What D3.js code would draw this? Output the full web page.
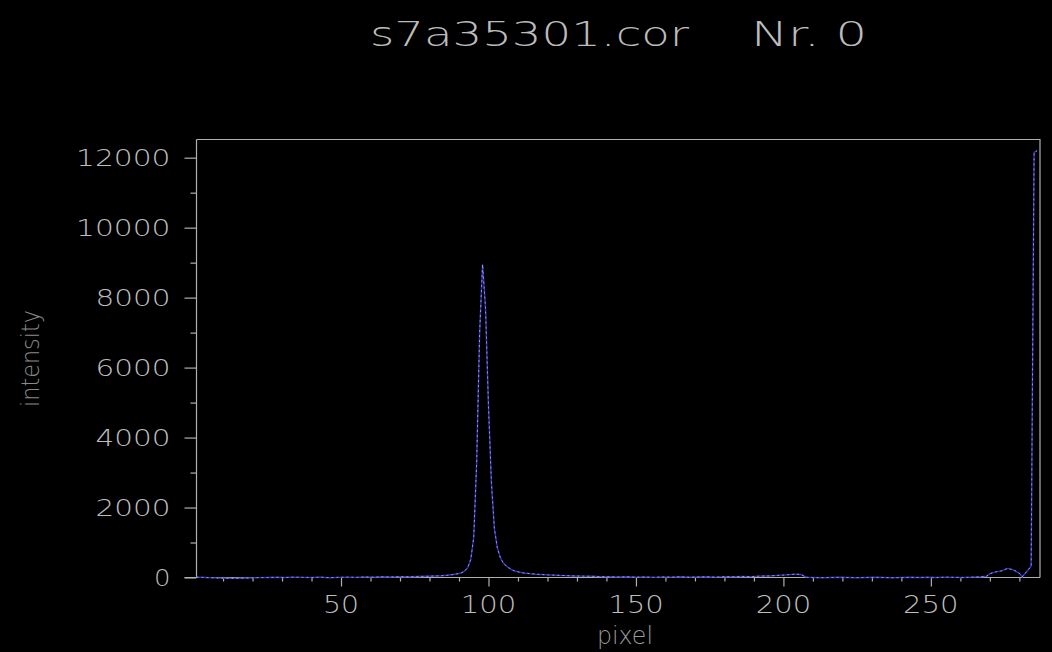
<!DOCTYPE html>
<html lang="en">
<head>
    <meta charset="UTF-8">
    <title>s7a35301.cor Nr. 0</title>
    <script src="https://d3js.org/d3.v7.min.js"></script>
    <style>
        body {
            margin: 0;
            overflow: hidden;
            background: #000;
        }
        svg text {
            font-family: 'DejaVu Sans', sans-serif;
            font-weight: 200;
        }
    </style>
</head>
<body>
    <div id="chart"></div>

    <script>
        // data
        const pixels = [1, 4, 7, 10, 13, 16, 19, 22, 25, 28, 31, 34, 37, 40, 43, 46, 49, 52, 55, 58,
            61, 64, 67, 70, 73, 76, 79, 82, 84, 86, 88, 89, 90, 91, 92, 93, 94, 95, 96, 97,
            98, 99, 100, 101, 102, 103, 104, 105, 106, 107, 108, 109, 110, 112, 114, 116, 118, 120, 123, 126,
            129, 132, 135, 138, 141, 144, 147, 150, 153, 156, 159, 162, 165, 168, 171, 174, 177, 180, 183, 186,
            189, 192, 195, 198, 201, 204, 206, 207, 208, 210, 213, 216, 219, 222, 225, 228, 231, 234, 237, 240,
            243, 246, 249, 252, 255, 258, 261, 264, 267, 269, 270, 272, 274, 276, 278, 280, 281, 282, 283, 284,
            285, 286];
        const intensity = [10, 0, -10, -20, -25, -20, -15, -5, 0, 5, 0, 10, 5, 0, 10, -5, 5, 10, 5, 15,
            10, 20, 15, 25, 20, 30, 35, 45, 50, 65, 85, 100, 115, 140, 190, 290, 520, 1150, 3300, 7000,
            8950, 7700, 4900, 2700, 1400, 850, 570, 420, 330, 270, 220, 185, 160, 130, 110, 95, 85, 75, 65, 55,
            45, 40, 35, 25, 20, 15, 20, 10, 15, 5, 15, 10, 20, 10, 15, 20, 10, 25, 20, 30,
            25, 40, 45, 60, 75, 95, 85, 40, 5, 0, -5, 0, 5, 0, -5, 0, 5, 0, -5, 0,
            5, 0, 5, 0, 10, 5, 0, 10, 20, 40, 110, 160, 190, 260, 220, 120, 20, 120, 220, 320,
            12150, 12200];

        const xMajor = [50, 100, 150, 200, 250];
        const yMajor = [0, 2000, 4000, 6000, 8000, 10000, 12000];

        const title = "s7a35301.cor";
        const subTitle = "Nr. 0";
        const xLabel = "pixel";
        const yLabel = "intensity";

        const width = 1052, height = 652;
        const plot = { left: 196.5, right: 1040, top: 139.5, bottom: 577.5 };
        const charW = 19.5;
        const labelLen = d => charW * String(d).length - 3;

        const svg = d3.select("#chart").append("svg")
            .attr("width", width)
            .attr("height", height)
            .style("background", "#000");

        const x = d3.scaleLinear().domain([1, 287]).range([plot.left, plot.right]);
        const y = d3.scaleLinear().domain([0, 12520]).range([plot.bottom, plot.top]);

        const frameColor = "#b0b0b0";
        const textColor = "#bdbdbd";

        // frame top and right
        svg.append("path")
            .attr("d", `M${plot.left},${plot.top}H${plot.right}V${plot.bottom}`)
            .attr("fill", "none")
            .attr("stroke", frameColor)
            .attr("stroke-width", 1.2);

        // x axis
        const xAxis = svg.append("g")
            .attr("transform", `translate(0,${plot.bottom})`)
            .call(d3.axisBottom(x).tickValues(d3.range(10, 287, 10)).tickSize(4).tickFormat(""));
        xAxis.select(".domain").attr("d", `M${plot.left - 12},0H${plot.right}`);
        xAxis.selectAll(".tick line")
            .attr("y2", d => xMajor.includes(d) ? 9 : 4);
        xAxis.selectAll("line, path").attr("stroke", frameColor).attr("stroke-width", 1.2);

        xAxis.selectAll(".lbl")
            .data(xMajor)
            .join("text")
            .attr("class", "lbl")
            .attr("text-anchor", "start")
            .attr("x", d => x(d) - labelLen(d) / 2)
            .attr("y", 35)
            .attr("textLength", labelLen)
            .attr("lengthAdjust", "spacingAndGlyphs")
            .attr("fill", textColor)
            .attr("font-size", 25)
            .text(d => d);

        // y axis
        const yAxis = svg.append("g")
            .attr("transform", `translate(${plot.left},0)`)
            .call(d3.axisLeft(y).tickValues(d3.range(0, 12001, 1000)).tickSize(6).tickFormat(""));
        yAxis.select(".domain").attr("d", `M0,${plot.top}V${plot.bottom}`);
        yAxis.selectAll(".tick line")
            .attr("x2", d => yMajor.includes(d) ? -12 : -6);
        yAxis.selectAll("line, path").attr("stroke", frameColor).attr("stroke-width", 1.2);

        yAxis.selectAll(".lbl")
            .data(yMajor)
            .join("text")
            .attr("class", "lbl")
            .attr("text-anchor", "start")
            .attr("x", d => -26 - labelLen(d))
            .attr("y", d => y(d) + 8.5)
            .attr("textLength", labelLen)
            .attr("lengthAdjust", "spacingAndGlyphs")
            .attr("fill", textColor)
            .attr("font-size", 23)
            .text(d => d);

        // axis titles
        svg.append("text")
            .attr("x", 597)
            .attr("y", 644)
            .attr("textLength", 56)
            .attr("lengthAdjust", "spacingAndGlyphs")
            .attr("fill", "#9a9a9a")
            .attr("font-size", 24)
            .text(xLabel);

        svg.append("text")
            .attr("transform", "translate(39,407) rotate(-90)")
            .attr("textLength", 97)
            .attr("lengthAdjust", "spacingAndGlyphs")
            .attr("fill", "#8a8a8a")
            .attr("font-size", 25)
            .text(yLabel);

        // title
        svg.append("text")
            .attr("x", 370)
            .attr("y", 46)
            .attr("textLength", 319)
            .attr("lengthAdjust", "spacingAndGlyphs")
            .attr("fill", "#bcbcbc")
            .attr("font-size", 33)
            .text(title);
        svg.append("text")
            .attr("x", 751)
            .attr("y", 46)
            .attr("textLength", 116)
            .attr("lengthAdjust", "spacingAndGlyphs")
            .attr("fill", "#bcbcbc")
            .attr("font-size", 33)
            .text(subTitle);

        // data line: blue trace with a light dotted trace on top
        const points = pixels.map((p, i) => [p, intensity[i]]);
        const line = d3.line().x(d => x(d[0])).y(d => y(d[1]));

        svg.append("path")
            .datum(points)
            .attr("fill", "none")
            .attr("stroke", "#3030b8")
            .attr("stroke-width", 1.4)
            .attr("d", line);

        svg.append("path")
            .datum(points)
            .attr("fill", "none")
            .attr("stroke", "#dcdcdc")
            .attr("stroke-opacity", 0.7)
            .attr("stroke-width", 0.9)
            .attr("stroke-dasharray", "2,3")
            .attr("d", line);
    </script>
</body>
</html>
